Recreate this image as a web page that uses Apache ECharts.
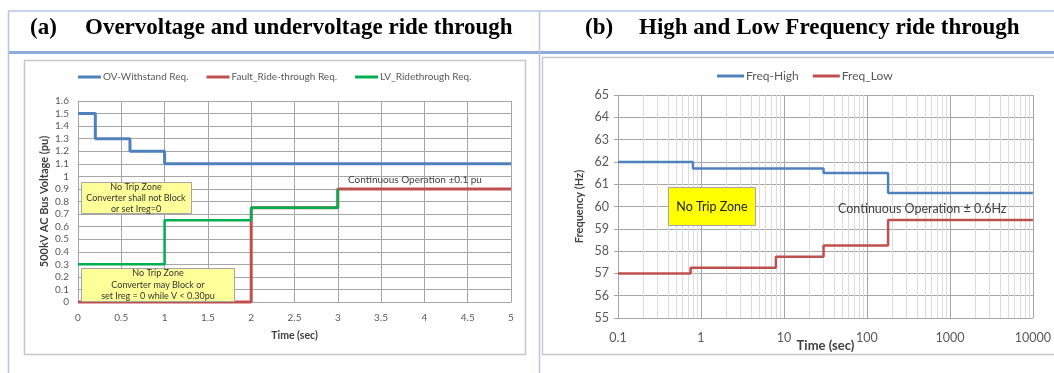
<!DOCTYPE html>
<html>
<head>
<meta charset="utf-8">
<script src="https://cdn.jsdelivr.net/npm/echarts@6/dist/echarts.min.js"></script>
<style>
html,body{margin:0;padding:0;background:#fff;}
#c{width:1054px;height:373px;}
</style>
</head>
<body>
<div id="c"></div>
<script>
// ---- Chart (a) data ----
const ovTime = [0, 0.2, 0.6, 1, 5];
const ovVolt = [1.5, 1.3, 1.2, 1.1, 1.1];
const faultTime = [0, 2, 3, 5];
const faultVolt = [0, 0.75, 0.9, 0.9];
const lvTime = [0, 1, 2, 3];
const lvVolt = [0.3, 0.65, 0.75, 0.9];
const seriesNamesA = ['OV-Withstand Req.', 'Fault_Ride-through Req.', 'LV_Ridethrough Req.'];

// ---- Chart (b) data ----
const highTime = [0.1, 0.8, 30, 180, 10000];
const freqHigh = [62, 61.7, 61.5, 60.6, 60.6];
const lowTime = [0.1, 0.75, 8, 30, 180, 10000];
const freqLow = [57, 57.25, 57.75, 58.25, 59.4, 59.4];
const seriesNamesB = ['Freq-High', 'Freq_Low'];

// minor log grid lines (2..9 in each decade)
const decades = [0.1, 1, 10, 100, 1000];
const minorMult = [2, 3, 4, 5, 6, 7, 8, 9];
const minorLines = [];
decades.forEach(d => minorMult.forEach(m => minorLines.push({ xAxis: +(d * m).toPrecision(6) })));

function pairs(xs, ys) { return xs.map((x, i) => [x, ys[i]]); }

const chart = echarts.init(document.getElementById('c'), null, { renderer: 'canvas' });
const labelColor = '#595959';
const fontFam = 'Lato, "Noto Sans", sans-serif';
const titleFont = 'bold 23px "Liberation Serif", serif';

const option = {
  backgroundColor: '#ffffff',
  animation: false,
  legend: [
    {
      data: seriesNamesA, left: 78, top: 72, padding: 0, icon: 'rect', itemWidth: 23, itemHeight: 3, itemGap: 18,
      textStyle: { color: labelColor, fontSize: 10, fontFamily: fontFam, padding: [0, 0, 0, -3] }
    },
    {
      data: seriesNamesB, left: 717, top: 70, padding: 0, icon: 'rect', itemWidth: 27, itemHeight: 3, itemGap: 14,
      textStyle: { color: labelColor, fontSize: 12, fontFamily: fontFam, padding: [0, 0, 0, -3] }
    }
  ],
  grid: [
    { left: 78, right: 1054 - 511, top: 101, bottom: 373 - 302, containLabel: false },
    { left: 618, right: 1054 - 1043, top: 95, bottom: 373 - 318, containLabel: false }
  ],
  xAxis: [
    {
      gridIndex: 0, type: 'value', min: 0, max: 5, interval: 0.5,
      name: 'Time (sec)', nameLocation: 'middle', nameGap: 28, nameMoveOverlap: false,
      nameTextStyle: { fontWeight: 'bold', fontSize: 10.5, color: '#404040', fontFamily: fontFam },
      axisLine: { show: true, lineStyle: { color: '#a6a6a6' } },
      axisTick: { show: false },
      axisLabel: { color: labelColor, fontSize: 10, margin: 11, fontFamily: fontFam },
      splitLine: { show: true, lineStyle: { color: '#a6a6a6', width: 1 } }
    },
    {
      gridIndex: 1, type: 'log', logBase: 10, min: 0.1, max: 10000,
      name: 'Time (sec)', nameLocation: 'middle', nameGap: 21, nameMoveOverlap: false,
      nameTextStyle: { fontWeight: 'bold', fontSize: 13, color: '#404040', fontFamily: fontFam },
      axisLine: { show: true, lineStyle: { color: '#a6a6a6' } },
      axisTick: { show: false },
      axisLabel: { color: labelColor, fontSize: 12.5, margin: 13, fontFamily: fontFam,
        formatter: v => String(+(+v).toPrecision(6)) },
      splitLine: { show: true, lineStyle: { color: '#a6a6a6', width: 1 } },
      minorTick: { show: false }, minorSplitLine: { show: false }
    }
  ],
  yAxis: [
    {
      gridIndex: 0, type: 'value', min: 0, max: 1.6, interval: 0.1,
      name: '500kV AC Bus Voltage (pu)', nameLocation: 'middle', nameGap: 28, nameMoveOverlap: false,
      nameTextStyle: { fontWeight: 'bold', fontSize: 11, color: '#404040', fontFamily: fontFam },
      axisLine: { show: true, lineStyle: { color: '#a6a6a6' } },
      axisTick: { show: false },
      axisLabel: { color: labelColor, fontSize: 10, margin: 9, fontFamily: fontFam },
      splitLine: { show: true, lineStyle: { color: '#a6a6a6', width: 1 } }
    },
    {
      gridIndex: 1, type: 'value', min: 55, max: 65, interval: 1,
      name: 'Frequency (Hz)', nameLocation: 'middle', nameGap: 33, nameMoveOverlap: false,
      nameTextStyle: { fontWeight: 'bold', fontSize: 11, color: '#404040', fontFamily: fontFam },
      axisLine: { show: true, lineStyle: { color: '#a6a6a6' } },
      axisTick: { show: true, length: 4, lineStyle: { color: '#a6a6a6' } },
      axisLabel: { color: labelColor, fontSize: 12.5, margin: 9, fontFamily: fontFam },
      splitLine: { show: true, lineStyle: { color: '#a6a6a6', width: 1 } }
    }
  ],
  series: [
    {
      name: seriesNamesA[0], type: 'line', xAxisIndex: 0, yAxisIndex: 0, step: 'end',
      data: pairs(ovTime, ovVolt), symbol: 'none', clip: false,
      lineStyle: { color: '#4f81bd', width: 3 }, itemStyle: { color: '#4f81bd' }
    },
    {
      name: seriesNamesA[1], type: 'line', xAxisIndex: 0, yAxisIndex: 0, step: 'end',
      data: pairs(faultTime, faultVolt), symbol: 'none', clip: false,
      lineStyle: { color: '#c0504d', width: 3 }, itemStyle: { color: '#c0504d' }
    },
    {
      name: seriesNamesA[2], type: 'line', xAxisIndex: 0, yAxisIndex: 0, step: 'end',
      data: pairs(lvTime, lvVolt), symbol: 'none', clip: false,
      lineStyle: { color: '#00b050', width: 2.5 }, itemStyle: { color: '#00b050' }
    },
    {
      name: 'minorGrid', type: 'line', xAxisIndex: 1, yAxisIndex: 1, data: [], z: 0, silent: true,
      markLine: {
        silent: true, symbol: 'none', animation: false, label: { show: false }, z: 0,
        lineStyle: { color: '#dcdcdc', width: 1, type: 'solid' },
        emphasis: { disabled: true },
        data: minorLines
      }
    },
    {
      name: seriesNamesB[0], type: 'line', xAxisIndex: 1, yAxisIndex: 1, step: 'end',
      data: pairs(highTime, freqHigh), symbol: 'none', z: 3,
      lineStyle: { color: '#4f81bd', width: 2.5 }, itemStyle: { color: '#4f81bd' }
    },
    {
      name: seriesNamesB[1], type: 'line', xAxisIndex: 1, yAxisIndex: 1, step: 'end',
      data: pairs(lowTime, freqLow), symbol: 'none', z: 3,
      lineStyle: { color: '#c0504d', width: 2.5 }, itemStyle: { color: '#c0504d' }
    }
  ],
  graphic: [
    // table frame
    { type: 'line', z: 100, shape: { x1: 8, y1: 11, x2: 1054, y2: 11 }, style: { stroke: '#b4c6e7', lineWidth: 1.5 } },
    { type: 'line', z: 100, shape: { x1: 8, y1: 52.5, x2: 1054, y2: 52.5 }, style: { stroke: '#8eaadb', lineWidth: 3 } },
    { type: 'line', z: 100, shape: { x1: 8.5, y1: 11, x2: 8.5, y2: 373 }, style: { stroke: '#b4c6e7', lineWidth: 1.5 } },
    { type: 'line', z: 100, shape: { x1: 539.5, y1: 11, x2: 539.5, y2: 373 }, style: { stroke: '#b4c6e7', lineWidth: 1.5 } },
    // chart boxes
    { type: 'rect', z: -1, shape: { x: 24.5, y: 60.5, width: 501, height: 294 }, style: { fill: 'none', stroke: '#c8c8c8', lineWidth: 1.5 } },
    { type: 'rect', z: -1, shape: { x: 542.5, y: 57.5, width: 520, height: 297 }, style: { fill: 'none', stroke: '#c8c8c8', lineWidth: 1.5 } },
    // titles
    { type: 'text', z: 100, style: { text: '(a)', x: 30, y: 28, font: titleFont, fill: '#000', textVerticalAlign: 'middle' } },
    { type: 'text', z: 100, style: { text: 'Overvoltage and undervoltage ride through', x: 85, y: 28, font: titleFont, fill: '#000', textVerticalAlign: 'middle' } },
    { type: 'text', z: 100, style: { text: '(b)', x: 585, y: 28, font: titleFont, fill: '#000', textVerticalAlign: 'middle' } },
    { type: 'text', z: 100, style: { text: 'High and Low Frequency ride through', x: 639, y: 28, font: titleFont, fill: '#000', textVerticalAlign: 'middle' } },
    // annotation boxes (a)
    { type: 'rect', z: 50, shape: { x: 81.5, y: 182.5, width: 110, height: 31 }, style: { fill: '#ffff99', stroke: '#a6a6a6', lineWidth: 1 } },
    { type: 'text', z: 51, style: { text: 'No Trip Zone\nConverter shall not Block\nor set Ireg=0', x: 136, y: 198, font: '9px Lato, sans-serif', fill: '#333', textAlign: 'center', textVerticalAlign: 'middle', lineHeight: 11 } },
    { type: 'rect', z: 50, shape: { x: 81.5, y: 268.5, width: 153, height: 33 }, style: { fill: '#ffff99', stroke: '#a6a6a6', lineWidth: 1 } },
    { type: 'text', z: 51, style: { text: 'No Trip Zone\nConverter may Block or\nset Ireg = 0 while V < 0.30pu', x: 158, y: 285, font: '9px Lato, sans-serif', fill: '#333', textAlign: 'center', textVerticalAlign: 'middle', lineHeight: 11.5 } },
    { type: 'text', z: 51, style: { text: 'Continuous Operation \u00b10.1 pu', x: 348, y: 180, font: '10px Lato, sans-serif', fill: '#404040', textVerticalAlign: 'middle' } },
    // annotation (b)
    { type: 'rect', z: 50, shape: { x: 668.5, y: 187.5, width: 87, height: 38 }, style: { fill: '#ffff00', stroke: '#a6a6a6', lineWidth: 1 } },
    { type: 'text', z: 51, style: { text: 'No Trip Zone', x: 712, y: 207, font: '12.5px Lato, sans-serif', fill: '#222', textAlign: 'center', textVerticalAlign: 'middle' } },
    { type: 'text', z: 51, style: { text: 'Continuous Operation \u00b1 0.6Hz', x: 838, y: 209, font: '12.5px Lato, sans-serif', fill: '#404040', textVerticalAlign: 'middle' } }
  ]
};
chart.setOption(option);
</script>
</body>
</html>
